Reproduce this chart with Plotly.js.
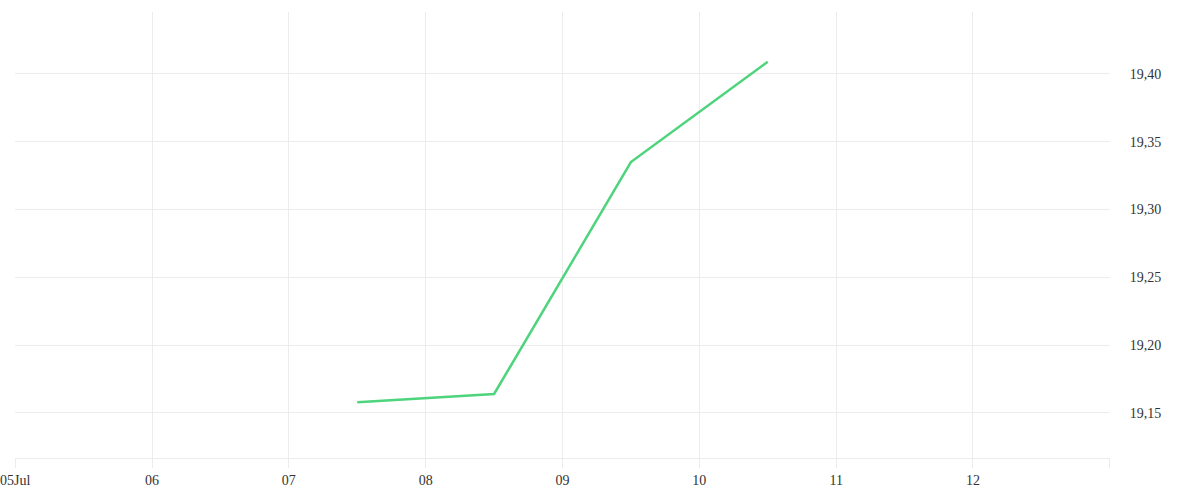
<!DOCTYPE html>
<html>
<head>
<meta charset="utf-8">
<script src="https://cdn.plot.ly/plotly-3.0.1.min.js"></script>
<style>
  html, body { margin: 0; padding: 0; background: #fff; }
  #chart { width: 1200px; height: 500px; }
</style>
</head>
<body>
<div id="chart"></div>
<script>
// price series, one point per day (midday)
const dates = ["2024-07-07 12:00", "2024-07-08 12:00", "2024-07-09 12:00", "2024-07-10 12:00"];
const values = [19.158, 19.164, 19.335, 19.409];

// x axis day ticks
const tickDates = ["2024-07-05", "2024-07-06", "2024-07-07", "2024-07-08", "2024-07-09",
                   "2024-07-10", "2024-07-11", "2024-07-12", "2024-07-13"];
const tickLabels = ["05Jul", "06", "07", "08", "09", "10", "11", "12", ""];

const gridColor = "#ececec";
const tickFont = { family: "Liberation Serif, serif", size: 14, color: "#333" };

const trace = {
    x: dates,
    y: values,
    type: "scatter",
    mode: "lines",
    line: { color: "#4dd47c", width: 2.5 },
    hoverinfo: "x+y",
};

const layout = {
    width: 1200,
    height: 500,
    margin: { l: 15, r: 90, t: 12, b: 42 },
    paper_bgcolor: "#fff",
    plot_bgcolor: "#fff",
    showlegend: false,
    separators: ",.",
    xaxis: {
        type: "date",
        range: ["2024-07-04 23:58", "2024-07-13 00:02"],
        tickmode: "array",
        tickvals: tickDates,
        ticktext: tickLabels,
        ticklabeloverflow: "allow",
        showgrid: true,
        gridcolor: gridColor,
        gridwidth: 1,
        showline: true,
        linecolor: gridColor,
        linewidth: 1,
        ticks: "outside",
        ticklen: 9,
        tickcolor: gridColor,
        tickfont: tickFont,
        zeroline: false,
    },
    yaxis: {
        side: "right",
        range: [19.1168, 19.4457],
        dtick: 0.05,
        tick0: 19.15,
        tickformat: ".2f",
        showgrid: true,
        gridcolor: gridColor,
        gridwidth: 1,
        showline: false,
        ticks: "outside",
        ticklen: 16,
        tickcolor: "rgba(0,0,0,0)",
        tickfont: tickFont,
        zeroline: false,
    },
};

Plotly.newPlot("chart", [trace], layout, { staticPlot: true });
</script>
</body>
</html>
